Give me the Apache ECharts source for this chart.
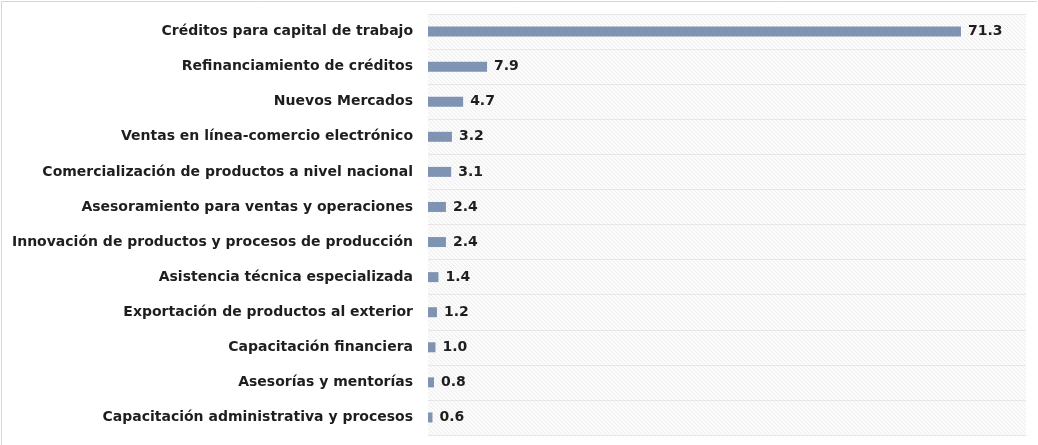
<!DOCTYPE html>
<html><head><meta charset="utf-8">
<script src="https://cdn.jsdelivr.net/npm/echarts@6/dist/echarts.min.js"></script>
<style>html,body{margin:0;padding:0;background:#fff}#c{width:1038px;height:445px}</style>
</head><body><div id="c"></div>
<script>
const categories = [
  "Créditos para capital de trabajo",
  "Refinanciamiento de créditos",
  "Nuevos Mercados",
  "Ventas en línea-comercio electrónico",
  "Comercialización de productos a nivel nacional",
  "Asesoramiento para ventas y operaciones",
  "Innovación de productos y procesos de producción",
  "Asistencia técnica especializada",
  "Exportación de productos al exterior",
  "Capacitación financiera",
  "Asesorías y mentorías",
  "Capacitación administrativa y procesos"
];
const values = [71.3, 7.9, 4.7, 3.2, 3.1, 2.4, 2.4, 1.4, 1.2, 1.0, 0.8, 0.6];

const pc = document.createElement('canvas');
pc.width = 4; pc.height = 4;
const g = pc.getContext('2d');
g.fillStyle = '#fbfbfb'; g.fillRect(0,0,4,4);
g.fillStyle = '#eeeeee';
for (let i = 0; i < 4; i++) g.fillRect(i, i, 1, 1);

const chart = echarts.init(document.getElementById('c'));
chart.setOption({
  animation: false,
  backgroundColor: '#fff',
  grid: { left: 428, right: 12, top: 14, bottom: 10, show: true, borderWidth: 0,
          backgroundColor: { image: pc, repeat: 'repeat' } },
  xAxis: { type: 'value', min: 0, max: 80, show: false },
  yAxis: {
    type: 'category', data: categories, inverse: true,
    axisLine: { show: false }, axisTick: { show: false },
    splitLine: { show: true, lineStyle: { color: '#e6e6e6', width: 1 } },
    axisLabel: { margin: 15, color: '#1e1e1e', fontFamily: 'DejaVu Sans', fontWeight: 'bold', fontSize: 14 }
  },
  series: [{
    type: 'bar', data: values, barWidth: 10,
    itemStyle: { color: '#7f94b2' },
    label: { show: true, position: 'right', distance: 7, color: '#1e1e1e',
             fontFamily: 'DejaVu Sans', fontWeight: 'bold', fontSize: 14,
             formatter: p => p.value.toFixed(1) }
  }],
  graphic: [
    { type: 'line', shape: { x1: 1.5, y1: 1.5, x2: 1037, y2: 1.5 }, style: { stroke: '#d6d6d6', lineWidth: 1 } },
    { type: 'line', shape: { x1: 1.5, y1: 1.5, x2: 1.5, y2: 445 }, style: { stroke: '#d6d6d6', lineWidth: 1 } }
  ]
});
</script></body></html>
